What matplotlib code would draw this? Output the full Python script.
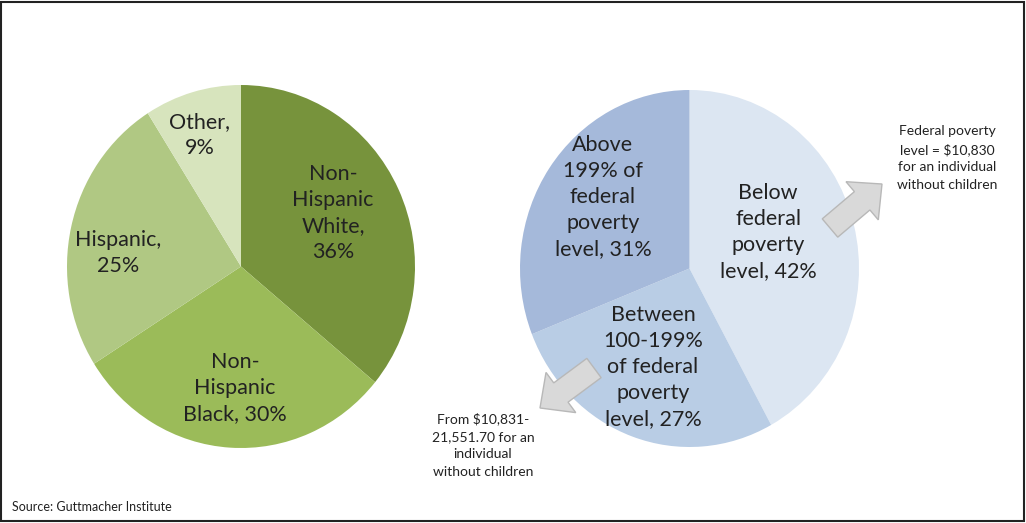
import matplotlib
matplotlib.use("Agg")
import matplotlib.pyplot as plt
import matplotlib.patches as mpatches

# ---- data ----
race_labels = ["Non-\nHispanic\nWhite,", "Non-\nHispanic\nBlack,", "Hispanic,", "Other,"]
race_values = [36, 30, 25, 9]
race_colors = ["#77933C", "#9BBB59", "#B0C883", "#D7E4BD"]

pov_labels = ["Below\nfederal\npoverty\nlevel,", "Between\n100-199%\nof federal\npoverty\nlevel,", "Above\n199% of\nfederal\npoverty\nlevel,"]
pov_values = [42, 27, 31]
pov_colors = ["#DCE6F2", "#B9CDE5", "#A5B9DA"]

note_top = "Federal poverty\nlevel = $10,830\nfor an individual\nwithout children"
note_bottom = "From $10,831-\n21,551.70 for an\nindividual\nwithout children"
source = "Source: Guttmacher Institute"

W, H = 1026, 523
fig = plt.figure(figsize=(W / 100, H / 100), dpi=100)
plt.rcParams['font.family'] = ['Lato', 'DejaVu Sans']

def box(x0, y0, x1, y1):
    return [x0 / W, 1 - y1 / H, (x1 - x0) / W, (y1 - y0) / H]

def draw_pie(rect, values, colors):
    ax = fig.add_axes(rect)
    ax.pie(values, colors=colors, startangle=90, counterclock=False,
           wedgeprops=dict(linewidth=0))
    ax.set_aspect('auto')
    ax.set_xlim(-1, 1)
    ax.set_ylim(-1, 1)
    ax.axis('off')
    return ax

draw_pie(box(67, 85, 415, 448), race_values, race_colors)
draw_pie(box(520, 90, 859, 447), pov_values, pov_colors)

# overlay in pixel coordinates
ov = fig.add_axes([0, 0, 1, 1], facecolor='none')
ov.set_xlim(0, W)
ov.set_ylim(H, 0)
ov.axis('off')

txt = dict(ha='center', va='center', fontsize=15.5, color='#222222', linespacing=1.38)
race_pos = [(333, 213), (235, 388), (118, 253), (200, 135)]
for lab, v, (x, y) in zip(race_labels, race_values, race_pos):
    sep = " " if lab.endswith("Black,") else "\n"
    ov.text(x, y, f"{lab}{sep}{v}%", **txt)

pov_pos = [(768, 232), (653, 367), (603, 197)]
for lab, v, (x, y) in zip(pov_labels, pov_values, pov_pos):
    ov.text(x, y, f"{lab} {v}%", **txt)

# block arrows
arrow_kw = dict(facecolor='#D9D9D9', edgecolor='#B8B8B8', linewidth=1,
                length_includes_head=True)
ov.add_patch(mpatches.FancyArrow(830, 228, 52, -44, width=24, head_width=50,
                                 head_length=26, **arrow_kw))
ov.add_patch(mpatches.FancyArrow(594, 368, -54, 40, width=24, head_width=50,
                                 head_length=26, **arrow_kw))

small = dict(ha='center', va='center', fontsize=10, color='#222222', linespacing=1.55)
ov.text(947, 158, note_top, **small)
ov.text(483, 445, note_bottom, **small)
ov.text(12, 507, source, ha='left', va='center', fontsize=9, color='#222222')

# frame
ov.add_patch(mpatches.Rectangle((1, 2), W - 3, H - 4, fill=False,
                                edgecolor='#222222', linewidth=1.5))

fig.savefig("out.png", dpi=100)
